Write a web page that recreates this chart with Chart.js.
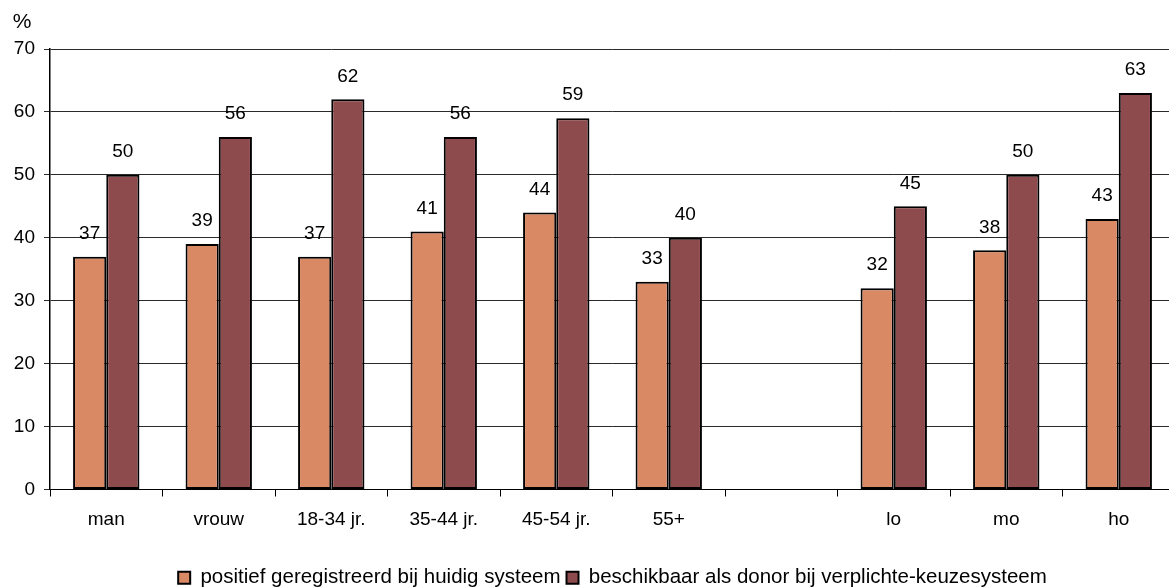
<!DOCTYPE html>
<html>
<head>
<meta charset="utf-8">
<script src="https://cdn.jsdelivr.net/npm/chart.js@4/dist/chart.umd.min.js"></script>
<style>
    html, body { margin: 0; padding: 0; background: #fff; overflow: hidden; }
    #wrap { width: 1180px; height: 598px; }
</style>
</head>
<body>
<div id="wrap"><canvas id="chart"></canvas></div>
<script>
    var categories = ['man', 'vrouw', '18-34 jr.', '35-44 jr.', '45-54 jr.', '55+', '', 'lo', 'mo', 'ho'];
    var geregistreerd = [37, 39, 37, 41, 44, 33, null, 32, 38, 43];
    var beschikbaar = [50, 56, 62, 56, 59, 40, null, 45, 50, 63];
    var seriesNames = ['positief geregistreerd bij huidig systeem', 'beschikbaar als donor bij verplichte-keuzesysteem'];
    var yTicks = [0, 10, 20, 30, 40, 50, 60, 70];

    var colors = {
        orange: '#d98a65',
        maroon: '#8e4b4e',
        border: '#000000',
        grid: '#2a2a2a'
    };
    var fontFamily = '"Liberation Sans", Arial, sans-serif';

    // values above the bars plus the "%" unit above the y axis
    var valueLabels = {
        id: 'valueLabels',
        afterDatasetsDraw: function (chart) {
            var ctx = chart.ctx;
            ctx.save();
            ctx.fillStyle = '#000';
            ctx.font = '19px ' + fontFamily;
            ctx.textAlign = 'center';
            ctx.textBaseline = 'middle';
            chart.data.datasets.forEach(function (ds, i) {
                chart.getDatasetMeta(i).data.forEach(function (bar, j) {
                    if (ds.data[j] == null) return;
                    ctx.fillText(ds.data[j], bar.x, bar.y - 23);
                });
            });
            ctx.font = '21px ' + fontFamily;
            ctx.fillText('%', chart.chartArea.left - 28, chart.chartArea.top - 27);
            ctx.restore();
        }
    };

    new Chart(document.getElementById('chart'), {
        type: 'bar',
        data: {
            labels: categories,
            datasets: [{
                label: seriesNames[0],
                data: geregistreerd,
                backgroundColor: colors.orange,
                borderColor: colors.border,
                borderWidth: 2,
                borderSkipped: false
            }, {
                label: seriesNames[1],
                data: beschikbaar,
                backgroundColor: colors.maroon,
                borderColor: colors.border,
                borderWidth: 2,
                borderSkipped: false
            }]
        },
        options: {
            responsive: true,
            maintainAspectRatio: false,
            animation: false,
            layout: { padding: { top: 49, left: 0, right: 5, bottom: 0 } },
            datasets: { bar: { categoryPercentage: 0.59, barPercentage: 1.0 } },
            scales: {
                x: {
                    offset: true,
                    grid: {
                        offset: true,
                        drawOnChartArea: false,
                        drawTicks: true,
                        tickLength: 7,
                        color: '#000'
                    },
                    border: { color: '#000', width: 1 },
                    ticks: {
                        color: '#000',
                        font: { family: fontFamily, size: 19 },
                        padding: 12,
                        maxRotation: 0,
                        autoSkip: false
                    },
                    afterFit: function (scale) { scale.height = 72; }
                },
                y: {
                    min: 0,
                    max: 70,
                    afterBuildTicks: function (scale) {
                        scale.ticks = yTicks.map(function (v) { return { value: v }; });
                    },
                    grid: {
                        color: colors.grid,
                        lineWidth: 1,
                        tickLength: 6
                    },
                    border: { color: '#000', width: 1.5 },
                    ticks: {
                        color: '#000',
                        font: { family: fontFamily, size: 19 },
                        padding: 9
                    },
                    afterFit: function (scale) { scale.width = 50; }
                }
            },
            plugins: {
                legend: {
                    position: 'bottom',
                    fullSize: false,
                    labels: {
                        color: '#000',
                        font: { family: fontFamily, size: 20.5 },
                        boxWidth: 12,
                        boxHeight: 12,
                        padding: 6
                    }
                },
                tooltip: { enabled: false }
            }
        },
        plugins: [valueLabels]
    });
</script>
</body>
</html>
